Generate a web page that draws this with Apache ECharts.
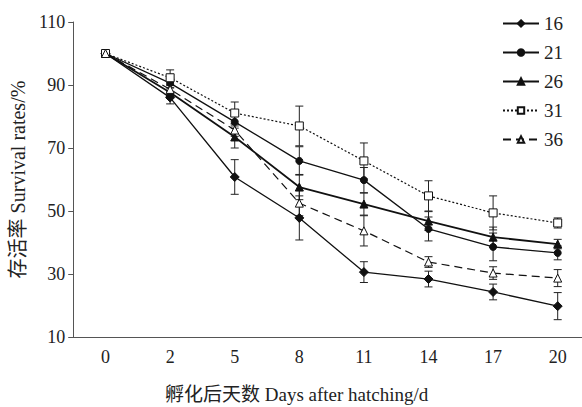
<!DOCTYPE html>
<html>
<head>
<meta charset="utf-8">
<script src="https://cdn.jsdelivr.net/npm/echarts@6/dist/echarts.min.js"></script>
<style>
  html, body { margin: 0; padding: 0; background: #fff; overflow: hidden; }
  #chart { width: 590px; height: 407px; }
</style>
</head>
<body>
<div id="chart"></div>
<script>
// days after hatching
var days = ['0', '2', '5', '8', '11', '14', '17', '20'];
var yTicks = [10, 30, 50, 70, 90, 110];

// survival rate per temperature (%)
var t16 = [100, 86.0, 60.8, 47.8, 30.6, 28.4, 24.3, 19.8];
var t21 = [100, 90.6, 78.3, 65.9, 59.8, 44.3, 38.6, 36.7];
var t26 = [100, 87.6, 73.5, 57.6, 52.2, 46.8, 41.7, 39.5];
var t31 = [100, 92.3, 81.1, 77.0, 65.9, 54.8, 49.4, 46.2];
var t36 = [100, 88.6, 75.7, 52.5, 43.7, 33.8, 30.3, 28.7];

// error bars (+/-)
var e16 = [0, 2.0, 5.5, 7.0, 3.3, 2.5, 2.5, 4.3];
var e21 = [0, 1.5, 2.0, 4.5, 4.0, 3.8, 4.4, 2.2];
var e26 = [0, 1.5, 3.5, 4.0, 3.5, 3.0, 3.2, 1.5];
var e31 = [0, 2.5, 3.5, 6.3, 5.7, 4.8, 5.4, 1.6];
var e36 = [0, 1.5, 2.0, 4.0, 4.8, 1.7, 2.0, 2.7];

var font = "'Liberation Serif', 'Times New Roman', 'Noto Sans CJK SC', serif";

function errData(vals, errs) {
  var out = [];
  for (var i = 0; i < vals.length; i++) {
    if (errs[i] > 0) out.push([i, vals[i] - errs[i], vals[i] + errs[i]]);
  }
  return out;
}

function errSeries(vals, errs) {
  return {
    type: 'custom',
    z: 1,
    silent: true,
    data: errData(vals, errs),
    encode: { x: 0, y: [1, 2] },
    renderItem: function (params, api) {
      var top = api.coord([api.value(0), api.value(2)]);
      var bot = api.coord([api.value(0), api.value(1)]);
      var h = 4;
      var st = { stroke: '#222', lineWidth: 1 };
      return {
        type: 'group',
        children: [
          { type: 'line', shape: { x1: top[0], y1: top[1], x2: bot[0], y2: bot[1] }, style: st },
          { type: 'line', shape: { x1: top[0] - h, y1: top[1], x2: top[0] + h, y2: top[1] }, style: st },
          { type: 'line', shape: { x1: bot[0] - h, y1: bot[1], x2: bot[0] + h, y2: bot[1] }, style: st }
        ]
      };
    }
  };
}

function lineSeries(name, vals, symbol, size, fill, width, type) {
  return {
    name: name,
    type: 'line',
    z: 3,
    data: vals,
    symbol: symbol,
    symbolSize: size,
    showAllSymbol: true,
    lineStyle: { color: '#111', width: width, type: type },
    itemStyle: { color: fill, borderColor: '#111', borderWidth: 1 }
  };
}

var chart = echarts.init(document.getElementById('chart'), null, { renderer: 'svg' });
chart.setOption({
  animation: false,
  backgroundColor: '#fff',
  textStyle: { fontFamily: font },
  grid: { left: 72, right: 0, top: 22, bottom: 70 },
  title: {
    text: '孵化后天数 Days after hatching/d',
    left: 160,
    top: 380,
    textStyle: { fontFamily: font, fontSize: 19, fontWeight: 'normal', color: '#222' }
  },
  legend: {
    orient: 'vertical',
    left: 497,
    top: 9,
    itemWidth: 36,
    itemHeight: 8,
    itemGap: 10,
    data: ['16', '21', '26', '31', '36'],
    textStyle: { fontFamily: font, fontSize: 19, color: '#222' }
  },
  xAxis: {
    type: 'category',
    data: days,
    boundaryGap: true,
    axisLine: { lineStyle: { color: '#555', width: 1 } },
    axisTick: { inside: true, length: 5, lineStyle: { color: '#555' } },
    axisLabel: { fontFamily: font, fontSize: 18, color: '#222', margin: 11 },
    splitLine: { show: false }
  },
  yAxis: {
    type: 'value',
    min: yTicks[0],
    max: yTicks[yTicks.length - 1],
    interval: 20,
    name: '存活率 Survival rates/%',
    nameLocation: 'middle',
    nameGap: 44,
    nameTextStyle: { fontFamily: font, fontSize: 20, color: '#222' },
    axisLine: { show: true, lineStyle: { color: '#555', width: 1 } },
    axisTick: { show: true, length: 5, lineStyle: { color: '#555' } },
    axisLabel: { fontFamily: font, fontSize: 18, color: '#222', margin: 8 },
    splitLine: { show: false }
  },
  series: [
    errSeries(t16, e16),
    errSeries(t21, e21),
    errSeries(t26, e26),
    errSeries(t31, e31),
    errSeries(t36, e36),
    lineSeries('16', t16, 'diamond', 9, '#111', 1.3, 'solid'),
    lineSeries('21', t21, 'circle', 7, '#111', 1.3, 'solid'),
    lineSeries('26', t26, 'triangle', 8, '#111', 1.8, 'solid'),
    lineSeries('31', t31, 'rect', 8, '#fff', 1.2, [2, 2]),
    lineSeries('36', t36, 'triangle', 8, '#fff', 1.2, [8, 5])
  ]
});
</script>
</body>
</html>
